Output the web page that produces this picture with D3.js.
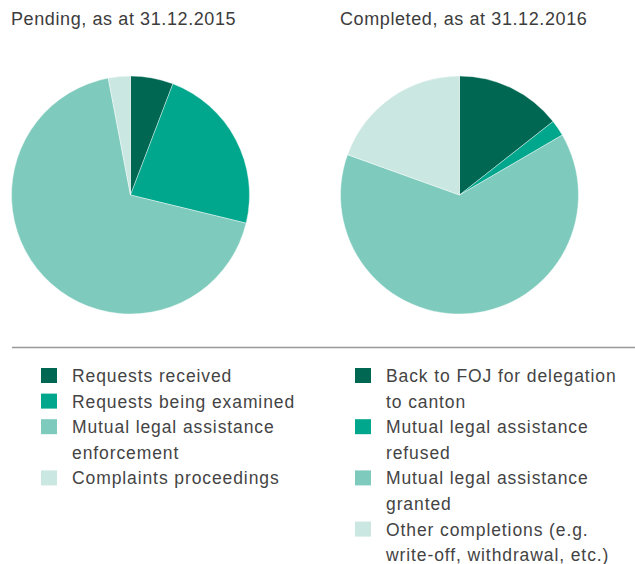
<!DOCTYPE html>
<html lang="en">
<head>
<meta charset="UTF-8">
<title>Pending and completed requests</title>
<style>
  body { margin: 0; background: #fff; font-family: "Liberation Sans", Arial, sans-serif; }
  .title { font-size: 18px; fill: #3c3c3c; letter-spacing: 0.6px; }
  .legend-text { font-size: 17.5px; fill: #444; letter-spacing: 0.9px; }
</style>
</head>
<body>
<svg id="chart" width="635" height="564"></svg>
<script src="https://cdnjs.cloudflare.com/ajax/libs/d3/7.8.5/d3.min.js"></script>
<script>
// data (shares in %)
const pendingTitle = "Pending, as at 31.12.2015";
const pendingLabels = [
  ["Requests received"],
  ["Requests being examined"],
  ["Mutual legal assistance", "enforcement"],
  ["Complaints proceedings"]
];
const pendingValues = [5.8, 23.0, 68.2, 3.0];

const completedTitle = "Completed, as at 31.12.2016";
const completedLabels = [
  ["Back to FOJ for delegation", "to canton"],
  ["Mutual legal assistance", "refused"],
  ["Mutual legal assistance", "granted"],
  ["Other completions (e.g.", "write-off, withdrawal, etc.)"]
];
const completedValues = [14.4, 2.2, 63.9, 19.5];

const colors = ["#006752", "#00a78c", "#7ecbbe", "#cbe7e1"];

const svg = d3.select("#chart");
const radius = 119;
const pie = d3.pie().sort(null).value(d => d);
const arc = d3.arc().innerRadius(0).outerRadius(radius);
const color = d3.scaleOrdinal().domain(d3.range(4)).range(colors);

function drawPie(cx, title, titleX, values) {
  svg.append("text")
    .attr("class", "title")
    .attr("x", titleX)
    .attr("y", 25)
    .text(title);

  const g = svg.append("g").attr("transform", `translate(${cx},195)`);
  g.selectAll("path")
    .data(pie(values))
    .enter()
    .append("path")
    .attr("d", arc)
    .attr("fill", (d, i) => color(i))
    .attr("stroke", "#fff")
    .attr("stroke-width", 0.4);
}

drawPie(130.5, pendingTitle, 11, pendingValues);
drawPie(459.5, completedTitle, 340, completedValues);

// separator
svg.append("line")
  .attr("x1", 12).attr("x2", 635)
  .attr("y1", 347.5).attr("y2", 347.5)
  .attr("stroke", "#999")
  .attr("stroke-width", 1.5);

function drawLegend(x, labels) {
  const lineH = 25.6;
  let y = 368;
  labels.forEach((lines, i) => {
    svg.append("rect")
      .attr("x", x).attr("y", y)
      .attr("width", 16).attr("height", 15)
      .attr("fill", color(i));
    const t = svg.append("text")
      .attr("class", "legend-text")
      .attr("x", x + 31)
      .attr("y", y + 14);
    lines.forEach((line, j) => {
      t.append("tspan")
        .attr("x", x + 31)
        .attr("dy", j === 0 ? 0 : lineH)
        .text(line);
    });
    y += lines.length * lineH;
  });
}

drawLegend(41, pendingLabels);
drawLegend(355, completedLabels);
</script>
</body>
</html>
